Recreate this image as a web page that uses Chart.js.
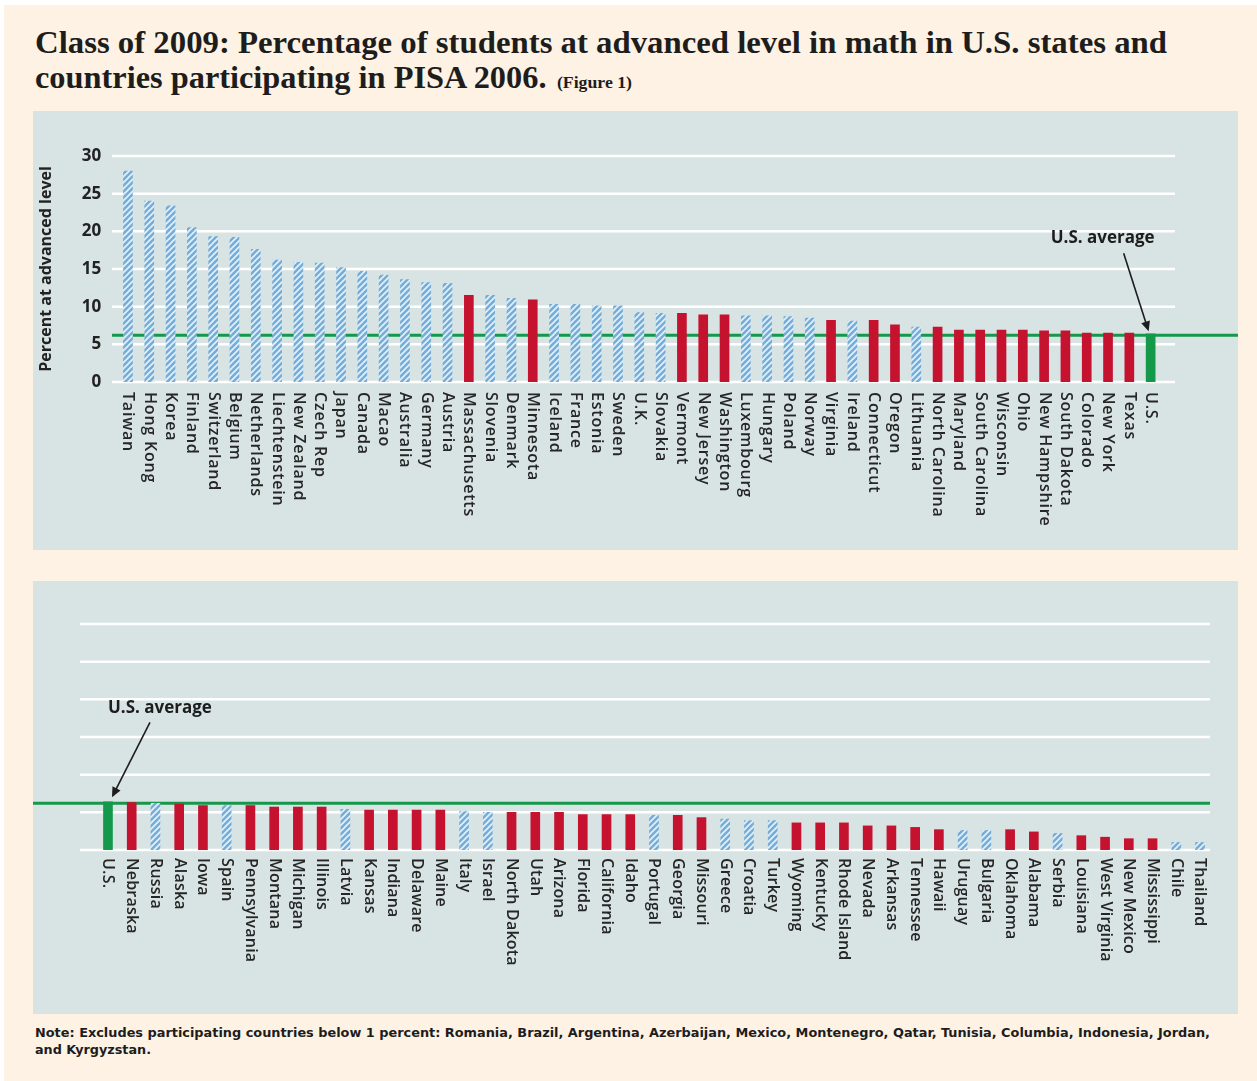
<!DOCTYPE html>
<html>
<head>
<meta charset="utf-8">
<title>Class of 2009: advanced level in math</title>
<script src="https://cdn.jsdelivr.net/npm/chart.js@4.4.1/dist/chart.umd.min.js"></script>
<style>
  html, body { margin: 0; padding: 0; background: #ffffff; }
  body { width: 1257px; height: 1081px; position: relative; overflow: hidden; }
  #page { position: absolute; left: 4px; top: 5px; right: 0; bottom: 0; background: #fdf2e3; }
  .line { position: absolute; left: 35px; white-space: nowrap; transform-origin: 0 50%; color: #1d1d1d; }
  .title { font-family: "Liberation Serif", serif; font-weight: bold; font-size: 31px; line-height: 31px; }
  .title small { font-size: 17px; margin-left: 10px; }
  .note { font-family: "DejaVu Sans Condensed", "DejaVu Sans", sans-serif; font-weight: bold; font-size: 11.5px; line-height: 12px; }
  .panel { position: absolute; left: 33px; width: 1205px; background: #d8e3e3; }
  #p1 { top: 111px; height: 439px; }
  #p2 { top: 581px; height: 433px; }
  .panel canvas { position: absolute; left: 0; top: 0; }
</style>
</head>
<body>
<div id="page"></div>
<div class="line title" id="t1" style="top:27px" data-w="1132">Class of 2009: Percentage of students at advanced level in math in U.S. states and</div>
<div class="line title" id="t2" style="top:62px" data-w="597">countries participating in PISA 2006.<small>(Figure 1)</small></div>

<div class="panel" id="p1"><canvas id="topChart" width="1205" height="439"></canvas></div>
<div class="panel" id="p2"><canvas id="bottomChart" width="1205" height="433"></canvas></div>

<div class="line note" style="top:1027px" data-w="1175">Note: Excludes participating countries below 1 percent: Romania, Brazil, Argentina, Azerbaijan, Mexico, Montenegro, Qatar, Tunisia, Columbia, Indonesia, Jordan,</div>
<div class="line note" style="top:1044px" data-w="116">and Kyrgyzstan.</div>

<script>
/* ---------- Data ---------- */
const yTicks = [0, 5, 10, 15, 20, 25, 30];
const usAverage = 6.2;

const topLabels = ["Taiwan", "Hong Kong", "Korea", "Finland", "Switzerland", "Belgium", "Netherlands",
  "Liechtenstein", "New Zealand", "Czech Rep", "Japan", "Canada", "Macao", "Australia", "Germany",
  "Austria", "Massachusetts", "Slovenia", "Denmark", "Minnesota", "Iceland", "France", "Estonia",
  "Sweden", "U.K.", "Slovakia", "Vermont", "New Jersey", "Washington", "Luxembourg", "Hungary",
  "Poland", "Norway", "Virginia", "Ireland", "Connecticut", "Oregon", "Lithuania", "North Carolina",
  "Maryland", "South Carolina", "Wisconsin", "Ohio", "New Hampshire", "South Dakota", "Colorado",
  "New York", "Texas", "U.S."];
const topValues = [28.0, 24.0, 23.4, 20.5, 19.3, 19.2, 17.6, 16.2, 15.9, 15.8, 15.2, 14.7, 14.2,
  13.6, 13.2, 13.1, 11.5, 11.5, 11.1, 10.9, 10.3, 10.3, 10.1, 10.1, 9.2, 9.1, 9.1, 8.9, 8.9, 8.8,
  8.8, 8.7, 8.5, 8.2, 8.1, 8.2, 7.6, 7.3, 7.3, 6.9, 6.9, 6.9, 6.9, 6.8, 6.8, 6.5, 6.5, 6.5, 6.4];
// c = country, s = U.S. state, u = U.S. as a whole
const topKinds = ["c", "c", "c", "c", "c", "c", "c", "c", "c", "c", "c", "c", "c", "c", "c", "c",
  "s", "c", "c", "s", "c", "c", "c", "c", "c", "c", "s", "s", "s", "c", "c", "c", "c", "s", "c",
  "s", "s", "c", "s", "s", "s", "s", "s", "s", "s", "s", "s", "s", "u"];

const bottomLabels = ["U.S.", "Nebraska", "Russia", "Alaska", "Iowa", "Spain", "Pennsylvania",
  "Montana", "Michigan", "Illinois", "Latvia", "Kansas", "Indiana", "Delaware", "Maine", "Italy",
  "Israel", "North Dakota", "Utah", "Arizona", "Florida", "California", "Idaho", "Portugal",
  "Georgia", "Missouri", "Greece", "Croatia", "Turkey", "Wyoming", "Kentucky", "Rhode Island",
  "Nevada", "Arkansas", "Tennessee", "Hawaii", "Uruguay", "Bulgaria", "Oklahoma", "Alabama",
  "Serbia", "Louisiana", "West Virginia", "New Mexico", "Mississippi", "Chile", "Thailand"];
const bottomValues = [6.4, 6.3, 6.2, 6.1, 5.9, 5.9, 5.9, 5.7, 5.7, 5.7, 5.4, 5.3, 5.3, 5.3, 5.3,
  5.1, 5.0, 5.0, 5.0, 5.0, 4.7, 4.7, 4.7, 4.6, 4.6, 4.3, 4.1, 3.9, 3.9, 3.6, 3.6, 3.6, 3.2, 3.2,
  3.0, 2.7, 2.6, 2.6, 2.7, 2.4, 2.2, 1.9, 1.7, 1.5, 1.5, 1.0, 1.0];
const bottomKinds = ["u", "s", "c", "s", "s", "c", "s", "s", "s", "s", "c", "s", "s", "s", "s",
  "c", "c", "s", "s", "s", "s", "s", "s", "c", "s", "s", "c", "c", "c", "s", "s", "s", "s", "s",
  "s", "s", "c", "c", "s", "s", "c", "s", "s", "s", "s", "c", "c"];

/* ---------- Text fitting (title + note) ---------- */
document.querySelectorAll(".line[data-w]").forEach((el) => {
  const w = el.getBoundingClientRect().width;
  el.style.transform = `scaleX(${Number(el.dataset.w) / w})`;
});

/* ---------- Colours ---------- */
const RED = "#c4122f";
const GREEN = "#14994a";

function hatchPattern() {
  const c = document.createElement("canvas");
  c.width = 6;
  c.height = 6;
  const g = c.getContext("2d");
  g.fillStyle = "#74aedb";
  g.fillRect(0, 0, 6, 6);
  g.strokeStyle = "rgba(236,244,250,0.95)";
  g.lineWidth = 1.6;
  g.beginPath();
  g.moveTo(-1, 7); g.lineTo(7, -1);
  g.moveTo(-4, 4); g.lineTo(4, -4);
  g.moveTo(2, 10); g.lineTo(10, 2);
  g.stroke();
  return g.createPattern(c, "repeat");
}
const HATCH = hatchPattern();

function kindColor(k) {
  if (k === "s") return RED;
  if (k === "u") return GREEN;
  return HATCH;
}

/* ---------- Decorations plugin ---------- */
function drawArrow(ctx, x0, y0, x1, y1) {
  const a = Math.atan2(y1 - y0, x1 - x0);
  const L = 10, W = 4.5;
  ctx.beginPath();
  ctx.moveTo(x0, y0);
  ctx.lineTo(x1 - Math.cos(a) * L * 0.8, y1 - Math.sin(a) * L * 0.8);
  ctx.stroke();
  ctx.beginPath();
  ctx.moveTo(x1, y1);
  ctx.lineTo(x1 - Math.cos(a) * L - Math.sin(a) * W, y1 - Math.sin(a) * L + Math.cos(a) * W);
  ctx.lineTo(x1 - Math.cos(a) * L + Math.sin(a) * W, y1 - Math.sin(a) * L - Math.cos(a) * W);
  ctx.closePath();
  ctx.fill();
}

const panelDecor = {
  id: "panelDecor",
  beforeDatasetsDraw(chart, args, o) {
    const { ctx, scales: { y } } = chart;
    ctx.save();
    ctx.strokeStyle = "#ffffff";
    ctx.lineWidth = 2.5;
    yTicks.forEach((v) => {
      const py = y.getPixelForValue(v);
      ctx.beginPath();
      ctx.moveTo(o.gridFrom, py);
      ctx.lineTo(o.gridTo, py);
      ctx.stroke();
    });
    const ay = y.getPixelForValue(usAverage);
    ctx.strokeStyle = GREEN;
    ctx.lineWidth = 3;
    ctx.beginPath();
    ctx.moveTo(o.avgFrom, ay);
    ctx.lineTo(o.avgTo, ay);
    ctx.stroke();
    ctx.restore();
  },
  afterDatasetsDraw(chart, args, o) {
    const { ctx, chartArea, scales: { x, y } } = chart;
    ctx.save();

    // category labels, rotated clockwise so they read downward
    ctx.font = '600 16px "Open Sans", sans-serif';
    ctx.letterSpacing = o.labelSpacing;
    ctx.fillStyle = "#262626";
    ctx.textAlign = "left";
    ctx.textBaseline = "middle";
    chart.data.labels.forEach((lab, i) => {
      ctx.save();
      ctx.translate(x.getPixelForValue(i), chartArea.bottom + o.labelGap);
      ctx.rotate(Math.PI / 2);
      ctx.fillText(lab, 0, 0);
      ctx.restore();
    });
    ctx.letterSpacing = "0px";

    // "U.S. average" callout
    const ux = x.getPixelForValue(chart.data.labels.indexOf("U.S."));
    const ay = y.getPixelForValue(usAverage);
    ctx.font = 'bold 17px "Open Sans", sans-serif';
    ctx.fillStyle = "#1d1d1d";
    ctx.textAlign = o.calloutAlign;
    ctx.fillText("U.S. average", ux + o.calloutDx, ay + o.calloutDy);
    ctx.strokeStyle = "#1d1d1d";
    ctx.lineWidth = 1.6;
    drawArrow(ctx, ux + o.arrowFrom[0], ay + o.arrowFrom[1], ux + o.arrowTo[0], ay + o.arrowTo[1]);
    ctx.restore();
  },
};

/* ---------- Charts ---------- */
function makeChart(id, labels, values, kinds, extra) {
  return new Chart(document.getElementById(id), {
    type: "bar",
    data: {
      labels,
      datasets: [{
        data: values,
        backgroundColor: kinds.map(kindColor),
        borderWidth: 0,
        barThickness: 9,
      }],
    },
    options: {
      responsive: false,
      devicePixelRatio: 1,
      animation: false,
      events: [],
      layout: { padding: extra.padding },
      plugins: {
        legend: { display: false },
        tooltip: { enabled: false },
        panelDecor: extra.decor,
      },
      scales: {
        x: { display: false },
        y: extra.y,
      },
    },
    plugins: [panelDecor],
  });
}

makeChart("topChart", topLabels, topValues, topKinds, {
  padding: { top: 45, right: 76.7, bottom: 168, left: 0 },
  y: {
    min: 0,
    max: 30,
    ticks: {
      stepSize: 5,
      color: "#222222",
      padding: 16,
      font: { family: "Open Sans", weight: "bold", size: 17 },
    },
    grid: { display: false, drawTicks: false },
    border: { display: false },
    title: {
      display: true,
      text: "Percent at advanced level",
      color: "#222222",
      padding: { top: 4, bottom: 0 },
      font: { family: "Open Sans", weight: "bold", size: 16 },
    },
    afterFit(s) { s.width = 84.3; },
  },
  decor: {
    gridFrom: 79, gridTo: 1142, avgFrom: 79, avgTo: 1205, labelGap: 10, labelSpacing: "0.8px",
    calloutAlign: "right", calloutDx: 4, calloutDy: -97,
    arrowFrom: [-27, -82], arrowTo: [-2, -4],
  },
});

makeChart("bottomChart", bottomLabels, bottomValues, bottomKinds, {
  padding: { top: 43, right: 26.1, bottom: 164, left: 63.1 },
  y: { display: false, min: 0, max: 30 },
  decor: {
    gridFrom: 47, gridTo: 1177, avgFrom: 0, avgTo: 1177, labelGap: 8, labelSpacing: "0.2px",
    calloutAlign: "left", calloutDx: 0, calloutDy: -95,
    arrowFrom: [42, -81], arrowTo: [4, -6],
  },
});
</script>
</body>
</html>
